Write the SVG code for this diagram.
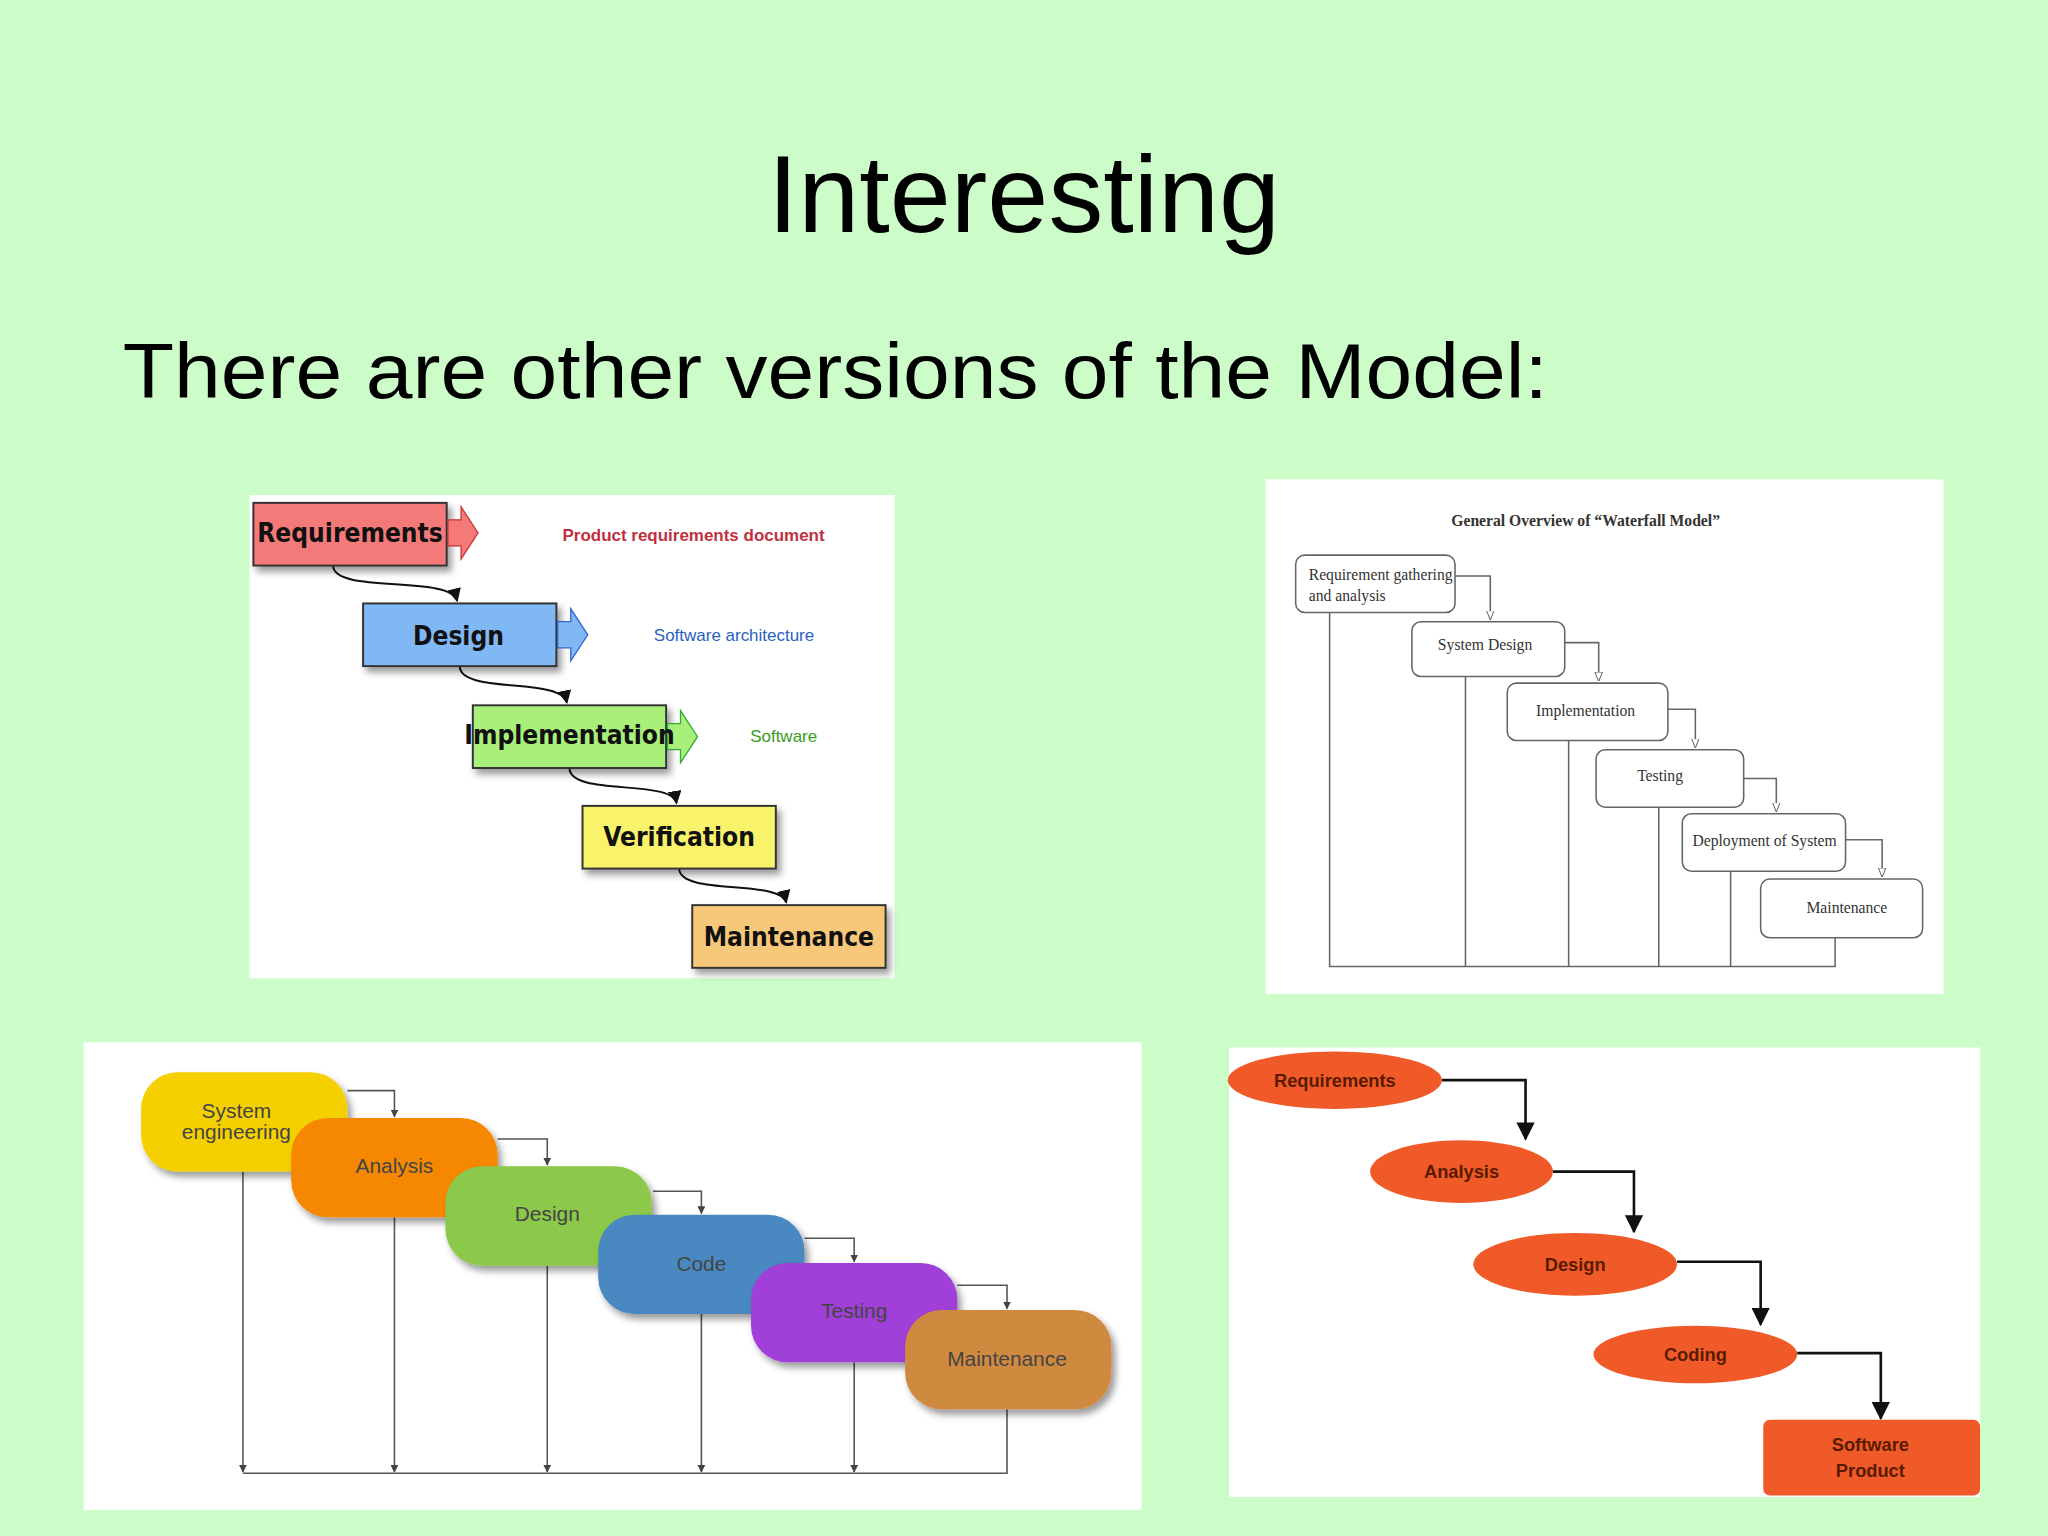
<svg xmlns="http://www.w3.org/2000/svg" width="2048" height="1536" viewBox="0 0 2048 1536">
<defs>
<style>
.t{font-family:"Liberation Sans",Arial,sans-serif}
.s{font-family:"Liberation Serif","Times New Roman",serif;fill:#333;font-size:12px}
.b1{stroke:#333;stroke-width:1.5}
.w2{fill:none;stroke:#666;stroke-width:1.2}
.c3{fill:none;stroke:#555;stroke-width:1.2}
.c4{fill:none;stroke:#111;stroke-width:2}
.e4{fill:#f05a28}
.l4{font-family:"Liberation Sans",Arial,sans-serif;font-size:14px;font-weight:bold;fill:#5a1a00;text-anchor:middle}
.l3{font-family:"Liberation Sans",Arial,sans-serif;font-size:16px;fill:#444;text-anchor:middle}
.l1{font-family:"DejaVu Sans Condensed","DejaVu Sans",sans-serif;font-size:20px;font-weight:bold;fill:#111;text-anchor:middle}
</style>
<marker id="a1" viewBox="0 0 10 10" refX="9" refY="5" markerWidth="7" markerHeight="7" orient="auto"><path d="M0,0L10,5L0,10z" fill="#111"/></marker>
<marker id="a2" viewBox="0 0 10 10" refX="9" refY="5" markerWidth="6" markerHeight="6" orient="auto"><path d="M0,1L10,5L0,9z" fill="#fff" stroke="#555"/></marker>
<marker id="a3" viewBox="0 0 10 10" refX="9" refY="5" markerWidth="5" markerHeight="5" orient="auto"><path d="M0,0L10,5L0,10z" fill="#444"/></marker>
<filter id="sh" x="-10%" y="-10%" width="130%" height="140%"><feDropShadow dx="3" dy="4" stdDeviation="3" flood-opacity="0.4"/></filter>
</defs>
<rect width="2048" height="1536" fill="#ccfdc9"/>
<g transform="scale(1.30612)">
<text class="t" x="784" y="178" font-size="84" text-anchor="middle">Interesting</text>
<text class="t" x="94" y="305" font-size="60" textLength="1091" lengthAdjust="spacingAndGlyphs">There are other versions of the Model:</text>

<!-- Panel 1 -->
<g id="panel1">
<rect x="191" y="379" width="494" height="370" fill="#fff"/>
<g id="p1-connectors" fill="none" stroke="#111" stroke-width="1.5">
<path d="M255,433 C255,455 345,440 350,460" marker-end="url(#a1)"/>
<path d="M352,510 C352,532 430,518 434,538" marker-end="url(#a1)"/>
<path d="M436,588 C436,610 515,596 518,615" marker-end="url(#a1)"/>
<path d="M520,665 C520,686 598,673 602,691" marker-end="url(#a1)"/>
</g>
<g id="p1-req"><rect x="194" y="385" width="148" height="48" fill="#f47a7a" class="b1" filter="url(#sh)"/><path d="M343,398h10v-10l13,20l-13,20v-10h-10z" fill="#f47a7a" stroke="#c33"/><text class="l1" x="268" y="415">Requirements</text></g>
<g id="p1-des"><rect x="278" y="462" width="148" height="48" fill="#7fb8f5" class="b1" filter="url(#sh)"/><path d="M427,476h10v-10l13,20l-13,20v-10h-10z" fill="#7fb8f5" stroke="#36c"/><text class="l1" x="351" y="494">Design</text></g>
<g id="p1-imp"><rect x="362" y="540" width="148" height="48" fill="#a8f07a" class="b1" filter="url(#sh)"/><path d="M511,554h10v-10l13,20l-13,20v-10h-10z" fill="#a8f07a" stroke="#3a3"/><text class="l1" x="436" y="570">Implementation</text></g>
<g id="p1-ver"><rect x="446" y="617" width="148" height="48" fill="#f8f36a" class="b1" filter="url(#sh)"/><text class="l1" x="520" y="648">Verification</text></g>
<g id="p1-mai"><rect x="530" y="693" width="148" height="48" fill="#f8c87a" class="b1" filter="url(#sh)"/><text class="l1" x="604" y="724">Maintenance</text></g>
<text class="t" x="531" y="414" font-size="13" fill="#c03040" text-anchor="middle" font-weight="bold">Product requirements document</text>
<text class="t" x="562" y="491" font-size="13" fill="#2a60c0" text-anchor="middle">Software architecture</text>
<text class="t" x="600" y="568" font-size="13" fill="#3a9a20" text-anchor="middle">Software</text>
</g>

<!-- Panel 2 -->
<g id="panel2">
<rect x="969" y="367" width="519" height="394" fill="#fff"/>
<text class="s" x="1214" y="403" text-anchor="middle" font-weight="bold">General Overview of “Waterfall Model”</text>
<g id="p2-connectors">
<path class="w2" d="M1114,441H1141V474" marker-end="url(#a2)"/>
<path class="w2" d="M1198,492H1224V521" marker-end="url(#a2)"/>
<path class="w2" d="M1277,543H1298V572" marker-end="url(#a2)"/>
<path class="w2" d="M1335,596H1360V621" marker-end="url(#a2)"/>
<path class="w2" d="M1413,643H1441V671" marker-end="url(#a2)"/>
<path class="w2" d="M1018,469V740H1405V718M1122,518V740M1201,567V740M1270,618V740M1325,667V740"/>
</g>
<g id="p2-n1"><rect x="992" y="425" width="122" height="44" rx="7" class="w2" fill="#fff"/><text class="s" x="1002" y="444">Requirement gathering</text><text class="s" x="1002" y="460">and analysis</text></g>
<g id="p2-n2"><rect x="1081" y="476" width="117" height="42" rx="7" class="w2" fill="#fff"/><text class="s" x="1137" y="498" text-anchor="middle">System Design</text></g>
<g id="p2-n3"><rect x="1154" y="523" width="123" height="44" rx="7" class="w2" fill="#fff"/><text class="s" x="1214" y="548" text-anchor="middle">Implementation</text></g>
<g id="p2-n4"><rect x="1222" y="574" width="113" height="44" rx="7" class="w2" fill="#fff"/><text class="s" x="1271" y="598" text-anchor="middle">Testing</text></g>
<g id="p2-n5"><rect x="1288" y="623" width="125" height="44" rx="7" class="w2" fill="#fff"/><text class="s" x="1351" y="648" text-anchor="middle">Deployment of System</text></g>
<g id="p2-n6"><rect x="1348" y="673" width="124" height="45" rx="7" class="w2" fill="#fff"/><text class="s" x="1414" y="699" text-anchor="middle">Maintenance</text></g>
</g>

<!-- Panel 3 -->
<g id="panel3">
<rect x="64" y="798" width="810" height="358" fill="#fff"/>
<g id="p3-connectors">
<path class="c3" d="M266,835H302V855" marker-end="url(#a3)"/>
<path class="c3" d="M381,872H419V892" marker-end="url(#a3)"/>
<path class="c3" d="M500,912H537V929" marker-end="url(#a3)"/>
<path class="c3" d="M616,948H654V966" marker-end="url(#a3)"/>
<path class="c3" d="M733,984H771V1002" marker-end="url(#a3)"/>
<path class="c3" d="M186,897V1127" marker-end="url(#a3)"/>
<path class="c3" d="M302,932V1127" marker-end="url(#a3)"/>
<path class="c3" d="M419,969V1127" marker-end="url(#a3)"/>
<path class="c3" d="M537,1006V1127" marker-end="url(#a3)"/>
<path class="c3" d="M654,1043V1127" marker-end="url(#a3)"/>
<path class="c3" d="M771,1079V1128H186"/>
</g>
<g id="p3-n1"><rect x="108" y="821" width="158" height="76" rx="28" fill="#f5d000" filter="url(#sh)"/><text class="l3" x="181" y="856">System</text><text class="l3" x="181" y="872">engineering</text></g>
<g id="p3-n2"><rect x="223" y="856" width="158" height="76" rx="28" fill="#f58800" filter="url(#sh)"/><text class="l3" x="302" y="898">Analysis</text></g>
<g id="p3-n3"><rect x="341" y="893" width="158" height="76" rx="28" fill="#8cc84a" filter="url(#sh)"/><text class="l3" x="419" y="935">Design</text></g>
<g id="p3-n4"><rect x="458" y="930" width="158" height="76" rx="28" fill="#4a88c0" filter="url(#sh)"/><text class="l3" x="537" y="973">Code</text></g>
<g id="p3-n5"><rect x="575" y="967" width="158" height="76" rx="28" fill="#a040d8" filter="url(#sh)"/><text class="l3" x="654" y="1009">Testing</text></g>
<g id="p3-n6"><rect x="693" y="1003" width="158" height="76" rx="28" fill="#d08a40" filter="url(#sh)"/><text class="l3" x="771" y="1046">Maintenance</text></g>
</g>

<!-- Panel 4 -->
<g id="panel4">
<rect x="941" y="802" width="575" height="344" fill="#fff"/>
<g id="p4-connectors">
<path class="c4" d="M1104,827H1168V872" marker-end="url(#a1)"/>
<path class="c4" d="M1189,897H1251V943" marker-end="url(#a1)"/>
<path class="c4" d="M1284,966H1348V1014" marker-end="url(#a1)"/>
<path class="c4" d="M1376,1036H1440V1086" marker-end="url(#a1)"/>
</g>
<g id="p4-n1"><ellipse class="e4" cx="1022" cy="827" rx="82" ry="22"/><text class="l4" x="1022" y="832">Requirements</text></g>
<g id="p4-n2"><ellipse class="e4" cx="1119" cy="897" rx="70" ry="24"/><text class="l4" x="1119" y="902">Analysis</text></g>
<g id="p4-n3"><ellipse class="e4" cx="1206" cy="968" rx="78" ry="24"/><text class="l4" x="1206" y="973">Design</text></g>
<g id="p4-n4"><ellipse class="e4" cx="1298" cy="1037" rx="78" ry="22"/><text class="l4" x="1298" y="1042">Coding</text></g>
<g id="p4-n5"><rect class="e4" x="1350" y="1087" width="166" height="58" rx="5"/><text class="l4" x="1432" y="1111">Software</text><text class="l4" x="1432" y="1131">Product</text></g>
</g>
</g>
</svg>
